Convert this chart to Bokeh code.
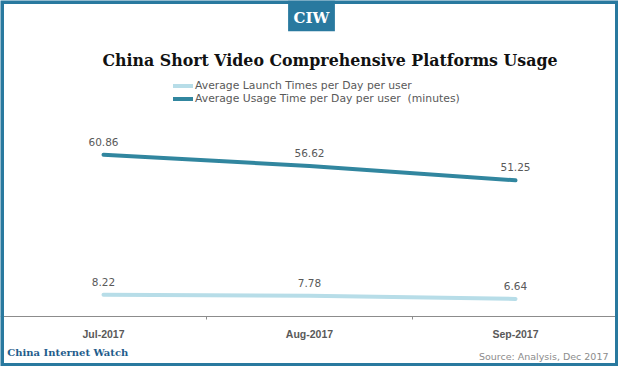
from bokeh.plotting import figure
from bokeh.models import (ColumnDataSource, Range1d, LinearAxis, FixedTicker, Label,
                          LabelSet, BoxAnnotation, Legend, LegendItem)
from bokeh.core.properties import value
from bokeh.embed import file_html
from bokeh.resources import INLINE

# ---- data ----
categories = ["Jul-2017", "Aug-2017", "Sep-2017"]
launch_times = [8.22, 7.78, 6.64]
usage_minutes = [60.86, 56.62, 51.25]
series_names = ["Average Launch Times per Day per user",
                "Average Usage Time per Day per user  (minutes)"]
title_text = "China Short Video Comprehensive Platforms Usage"
badge_text = "CIW"
footer_text = "China Internet Watch"
source_text = "Source: Analysis, Dec 2017"

# ---- style ----
W, H = 618, 366
BLUE = "#29799f"
USAGE_C = "#31869f"
LAUNCH_C = "#b7dde8"
GRAY = "#595959"

xs = list(range(len(categories)))
src = ColumnDataSource(dict(
    x=xs, launch=launch_times, usage=usage_minutes,
    launch_txt=[f"{v:.2f}" for v in launch_times],
    usage_txt=[f"{v:.2f}" for v in usage_minutes],
))

p = figure(width=W, height=H, output_backend="svg", toolbar_location=None,
           x_range=Range1d(-0.5, len(categories) - 0.5), y_range=Range1d(-18.8, 118.9),
           x_axis_location=None, y_axis_location=None,
           min_border_left=0, min_border_right=0, min_border_top=0, min_border_bottom=0)
p.outline_line_color = None
p.background_fill_color = "white"
p.border_fill_color = "white"
for g in p.grid:
    g.visible = False

r_launch = p.line("x", "launch", source=src, line_color=LAUNCH_C, line_width=4, line_cap="round")
r_usage = p.line("x", "usage", source=src, line_color=USAGE_C, line_width=4, line_cap="round")

for col, txt in (("launch", "launch_txt"), ("usage", "usage_txt")):
    p.add_layout(LabelSet(x="x", y=col, text=txt, source=src, y_offset=13,
                          text_align="center", text_baseline="middle",
                          text_font=value("DejaVu Sans"), text_font_size="10.5px",
                          text_color=GRAY))

ax = LinearAxis(ticker=FixedTicker(ticks=xs, minor_ticks=[i + 0.5 for i in xs[:-1]]),
                major_label_overrides={i: c for i, c in enumerate(categories)},
                fixed_location=0)
ax.axis_line_color = "#8c8c8c"
ax.major_tick_line_color = None
ax.major_tick_out = 0
ax.major_tick_in = 0
ax.minor_tick_line_color = "#8c8c8c"
ax.minor_tick_out = 3
ax.minor_tick_in = 0
ax.major_label_standoff = 8
ax.major_label_text_font = "Liberation Sans"
ax.major_label_text_font_style = "bold"
ax.major_label_text_font_size = "10.5px"
ax.major_label_text_color = GRAY
p.add_layout(ax, "below")

legend = Legend(items=[LegendItem(label=series_names[0], renderers=[r_launch]),
                       LegendItem(label=series_names[1], renderers=[r_usage])],
                location=(173, 261), orientation="vertical",
                label_text_font="DejaVu Sans", label_text_font_size="10.8px",
                label_text_color=GRAY, label_height=13, glyph_height=13,
                glyph_width=20, label_standoff=2, spacing=0, padding=0, margin=0,
                border_line_color=None, background_fill_alpha=0)
p.add_layout(legend)

# title
p.add_layout(Label(x=329.5, y=305.6, x_units="screen", y_units="screen", text=title_text,
                   text_align="center", text_baseline="middle", text_font="DejaVu Serif",
                   text_font_style="bold", text_font_size="15.8px", text_color="#111111"))

# badge
p.add_layout(BoxAnnotation(left=287.6, right=334.4, top=H, bottom=335.3,
                           left_units="screen", right_units="screen",
                           top_units="screen", bottom_units="screen",
                           fill_color=BLUE, fill_alpha=1, line_color=None))
p.add_layout(Label(x=311, y=348.3, x_units="screen", y_units="screen", text=badge_text,
                   text_align="center", text_baseline="middle", text_font="DejaVu Serif",
                   text_font_style="bold", text_font_size="15px", text_color="white"))

# footer
p.add_layout(Label(x=6.8, y=14.4, x_units="screen", y_units="screen", text=footer_text,
                   text_align="left", text_baseline="middle", text_font="DejaVu Serif",
                   text_font_style="bold", text_font_size="10px", text_color="#1f5d8c"))
p.add_layout(Label(x=608, y=10.5, x_units="screen", y_units="screen", text=source_text,
                   text_align="right", text_baseline="middle", text_font="DejaVu Sans",
                   text_font_size="9.5px", text_color="#8c8c8c"))

# outer frame
p.add_layout(BoxAnnotation(left=0, right=W, top=H, bottom=0,
                           left_units="screen", right_units="screen",
                           top_units="screen", bottom_units="screen",
                           fill_alpha=0, line_color=BLUE, line_alpha=1, line_width=7))

open("out.html", "w").write(file_html(p, INLINE))
